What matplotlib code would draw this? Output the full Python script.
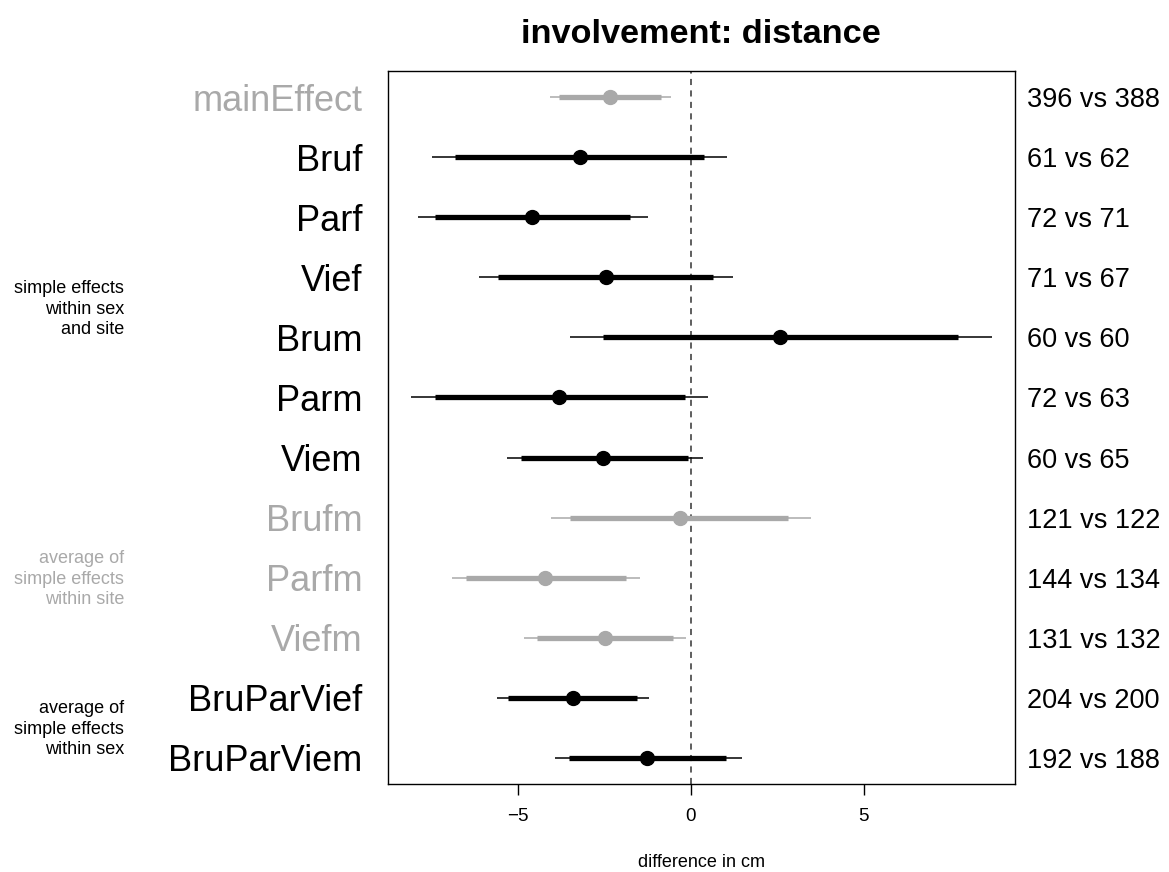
import matplotlib
matplotlib.use("Agg")
import matplotlib.pyplot as plt
import numpy as np

plt.rcParams['font.family'] = ['Liberation Sans', 'DejaVu Sans']

labels = ["mainEffect", "Bruf", "Parf", "Vief", "Brum", "Parm", "Viem",
          "Brufm", "Parfm", "Viefm", "BruParVief", "BruParViem"]
estimate = [-2.33, -3.20, -4.58, -2.46, 2.57, -3.81, -2.53, -0.32, -4.20, -2.49, -3.41, -1.25]
outer_lo = [-4.07, -7.49, -7.87, -6.13, -3.49, -8.09, -5.30, -4.04, -6.89, -4.81, -5.60, -3.92]
outer_hi = [-0.57, 1.05, -1.24, 1.22, 8.69, 0.51, 0.35, 3.48, -1.46, -0.15, -1.22, 1.48]
inner_lo = [-3.80, -6.81, -7.38, -5.57, -2.54, -7.40, -4.90, -3.49, -6.48, -4.44, -5.28, -3.51]
inner_hi = [-0.85, 0.37, -1.76, 0.65, 7.72, -0.17, -0.08, 2.82, -1.88, -0.51, -1.55, 1.03]
counts = ["396 vs 388", "61 vs 62", "72 vs 71", "71 vs 67", "60 vs 60", "72 vs 63",
          "60 vs 65", "121 vs 122", "144 vs 134", "131 vs 132", "204 vs 200", "192 vs 188"]
grey_rows = ["mainEffect", "Brufm", "Parfm", "Viefm"]
xticks = [-5, 0, 5]
xtick_labels = ["\u22125", "0", "5"]

GREY = "#a9a9a9"
W, H = 1169, 872
fig = plt.figure(figsize=(W / 100, H / 100), dpi=100)
L, R, T, B = 387.5, 1014.8, 71, 784
ax = fig.add_axes([L / W, 1 - B / H, (R - L) / W, (B - T) / H])

n = len(labels)
ypos = np.arange(1, n + 1)
colors = [GREY if lab in grey_rows else "black" for lab in labels]

ax.axvline(0, color="#333333", lw=1.1, ls=(0, (4, 3.5)), zorder=1)
for i in range(n):
    y = ypos[i]
    c = colors[i]
    ax.hlines(y, outer_lo[i], outer_hi[i], color=c, lw=1.1, zorder=2)
    ax.hlines(y, inner_lo[i], inner_hi[i], color=c, lw=3.8, zorder=3)
    ax.plot([estimate[i]], [y], "o", color=c, ms=10, mec=c, zorder=4)

lo = min(outer_lo); hi = max(outer_hi)
pad = 0.04 * (hi - lo)
ax.set_xlim(lo - pad, hi + pad)
ax.set_ylim(n + 0.44, 1 - 0.44)

for s in ax.spines.values():
    s.set_linewidth(1.0)
    s.set_color("black")
ax.set_yticks([])
ax.set_xticks(xticks)
ax.set_xticklabels(xtick_labels, fontsize=13.5)
ax.tick_params(axis="x", length=8, width=1, pad=9)
ax.set_xlabel("difference in cm", fontsize=13, labelpad=21)

trans = ax.get_yaxis_transform()
for i in range(n):
    ax.text(-0.0395, ypos[i], labels[i], transform=trans, ha="right",
            va="center_baseline", fontsize=26, color=colors[i])
    ax.text(1.019, ypos[i], counts[i], transform=trans, ha="left",
            va="center_baseline", fontsize=19.5, color="black")

ax.set_title("involvement: distance", fontsize=24.7, fontweight="bold", pad=20)

fig.text(124 / W, 1 - 309 / H, "simple effects\nwithin sex\nand site", ha="right",
         va="center", fontsize=13, linespacing=1.3, color="black")
fig.text(124 / W, 1 - 579 / H, "average of\nsimple effects\nwithin site", ha="right",
         va="center", fontsize=13, linespacing=1.3, color=GREY)
fig.text(124 / W, 1 - 729 / H, "average of\nsimple effects\nwithin sex", ha="right",
         va="center", fontsize=13, linespacing=1.3, color="black")

fig.savefig("out.png", dpi=100)
